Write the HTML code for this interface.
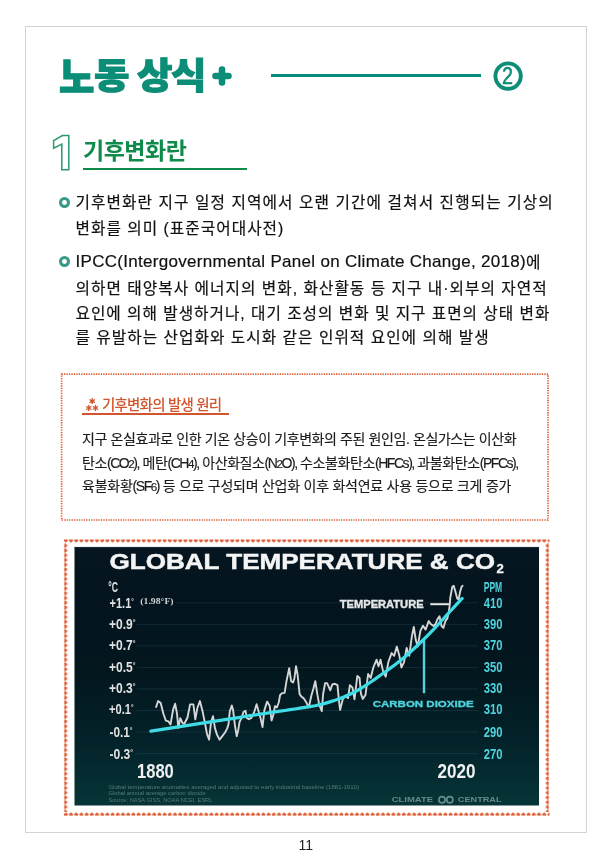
<!DOCTYPE html>
<html lang="ko">
<head>
<meta charset="utf-8">
<style>
*{margin:0;padding:0;box-sizing:border-box}
html,body{width:612px;height:859px;background:#fff;overflow:hidden}
body{position:relative;font-family:"Liberation Sans","Noto Sans CJK KR",sans-serif;color:#222}
.abs{position:absolute;white-space:nowrap}
#page{position:absolute;left:25px;top:26px;width:562px;height:807px;border:1px solid #d4d4d4}
.tch{position:absolute;top:47px;font-family:"Noto Sans CJK KR",sans-serif;font-weight:900;font-size:36px;line-height:52px;color:#0b8d77;-webkit-text-stroke:1px #0b8d77;transform:scaleX(1.07);transform-origin:0 0}
#hline{left:271px;top:74px;width:210px;height:3px;background:#078b7a}
#sec-h{left:83px;top:132px;font-family:"Liberation Sans","Noto Sans CJK KR",sans-serif;font-weight:700;font-size:23px;color:#0e8a4a;letter-spacing:-0.5px}
#sec-ul{left:83px;top:168px;width:164px;height:2px;background:#0e8a4a}
.bul{position:absolute;width:11.4px;height:11.2px;border:3px solid #3a9888;border-radius:50%}
.tx{position:absolute;white-space:nowrap;font-family:"Liberation Sans","Noto Sans CJK KR",sans-serif;font-size:15.7px;color:#111;letter-spacing:1.03px;-webkit-text-stroke:0.2px #111}
#box-h{left:84px;top:393px;font-family:"Liberation Sans","Noto Sans CJK KR",sans-serif;font-weight:500;font-size:14.5px;color:#d2552d;letter-spacing:-0.8px}
#box-ul{left:82px;top:413px;width:147px;height:2px;background:#d2552d}
.bt{position:absolute;white-space:nowrap;font-family:"Liberation Sans","Noto Sans CJK KR",sans-serif;font-size:14px;color:#1c1c1c;letter-spacing:-0.4px;-webkit-text-stroke:0.15px #1c1c1c}
.n{letter-spacing:-1.45px}
.lat{font-size:17px;letter-spacing:0.3px;vertical-align:1.5px}
#pno{left:298.5px;top:837px;font-size:14px;color:#222;font-family:"Liberation Sans",sans-serif}
</style>
</head>
<body>
<div id="page"></div>

<div class="tch" style="left:59px;top:45px;transform:scale(1.07,1.13)">노</div><div class="tch" style="left:94px">동</div><div class="tch" style="left:137px">상</div><div class="tch" style="left:171px">식</div>
<svg class="abs" style="left:209.6px;top:63.75px" width="24" height="24" viewBox="0 0 24 24"><path d="M12 5.5V18.5M5.5 12H18.5" stroke="#0b8d77" stroke-width="6.6" stroke-linecap="round"/></svg>
<div id="hline" class="abs"></div>
<svg class="abs" style="left:490px;top:58px" width="36" height="36" viewBox="490 58 36 36"><circle cx="508.1" cy="76.1" r="12.7" fill="none" stroke="#0b8d77" stroke-width="3.9"/><text x="507.4" y="84.2" text-anchor="middle" fill="#0b8d77" stroke="#0b8d77" stroke-width="0.5" font-family="Liberation Sans, sans-serif" font-size="23.4" textLength="11" lengthAdjust="spacingAndGlyphs">2</text></svg>

<svg class="abs" style="left:50px;top:132px" width="24" height="42" viewBox="0 0 24 42">
  <path d="M3.6 8.7 L12.4 3.5 L18.8 3.5 L18.8 37.7 L11.8 37.7 L11.8 12.2 L3.6 16.2 Z" fill="none" stroke="#2a9a6a" stroke-width="1.5" stroke-linejoin="miter"/>
</svg>
<div id="sec-h" class="abs">기후변화란</div>
<div id="sec-ul" class="abs"></div>

<div class="bul" style="left:58.8px;top:196.8px"></div>
<div class="tx" style="left:75.5px;top:189.8px;letter-spacing:1.09px">기후변화란 지구 일정 지역에서 오랜 기간에 걸쳐서 진행되는 기상의</div>
<div class="tx" style="left:75.5px;top:215.8px">변화를 의미 (표준국어대사전)</div>

<div class="bul" style="left:58.8px;top:255.8px"></div>
<div class="tx" style="left:75.5px;top:249.8px;letter-spacing:0.93px"><span class="lat">IPCC(Intergovernmental Panel on Climate Change, 2018)</span>에</div>
<div class="tx" style="left:75.5px;top:275.8px">의하면 태양복사 에너지의 변화, 화산활동 등 지구 내·외부의 자연적</div>
<div class="tx" style="left:75.5px;top:300.8px;letter-spacing:0.98px">요인에 의해 발생하거나, 대기 조성의 변화 및 지구 표면의 상태 변화</div>
<div class="tx" style="left:75.5px;top:324.8px">를 유발하는 산업화와 도시화 같은 인위적 요인에 의해 발생</div>

<svg class="abs" style="left:80px;top:394px" width="22" height="20" viewBox="80 394 22 20"><path d="M92.20 398.60L92.20 403.60M90.03 399.85L94.37 402.35M94.37 399.85L90.03 402.35M88.80 405.50L88.80 410.50M86.63 406.75L90.97 409.25M90.97 406.75L86.63 409.25M95.50 405.50L95.50 410.50M93.33 406.75L97.67 409.25M97.67 406.75L93.33 409.25" stroke="#d2552d" stroke-width="1.35" stroke-linecap="round"/></svg>
<div id="box-h" class="abs" style="left:102px">기후변화의 발생 원리</div>
<div id="box-ul" class="abs"></div>
<div class="bt" style="left:82px;top:427.7px">지구 온실효과로 인한 기온 상승이 기후변화의 주된 원인임. 온실가스는 이산화</div>
<div class="bt" style="left:82px;top:451.8px">탄소<span class="n">(CO<small>2</small>),</span> 메탄<span class="n">(CH<small>4</small>),</span> 아산화질소<span class="n">(N<small>2</small>O),</span> 수소불화탄소<span class="n">(HFCs),</span> 과불화탄소<span class="n">(PFCs),</span></div>
<div class="bt" style="left:82px;top:474.8px;letter-spacing:-0.25px">육불화황<span class="n">(SF<small>6</small>)</span> 등 으로 구성되며 산업화 이후 화석연료 사용 등으로 크게 증가</div>

<!-- CHART -->
<svg class="abs" style="left:0;top:0" width="612" height="859" viewBox="0 0 612 859">
<defs>
<linearGradient id="bg" x1="0" y1="0" x2="0" y2="1">
<stop offset="0" stop-color="#061620"/>
<stop offset="0.2" stop-color="#03141e"/>
<stop offset="0.5" stop-color="#03171f"/>
<stop offset="0.75" stop-color="#032229"/>
<stop offset="1" stop-color="#063537"/>
</linearGradient>
</defs>
<rect x="61.6" y="374.2" width="486.4" height="145.8" fill="none" stroke="#dd5d36" stroke-width="1.7" stroke-dasharray="1.3 1.15"/>
<pattern id="hh" patternUnits="userSpaceOnUse" x="63.2" y="539" width="5.2" height="4"><path transform="translate(2.6,2)" d="M0,1.75 L-1.85,-0.05 A0.95,0.95 0 0 1 0,-1.25 A0.95,0.95 0 0 1 1.85,-0.05 Z" fill="#e0603a"/></pattern>
<pattern id="hb" patternUnits="userSpaceOnUse" x="63.2" y="812" width="5.2" height="4"><path transform="translate(2.6,2) rotate(180)" d="M0,1.75 L-1.85,-0.05 A0.95,0.95 0 0 1 0,-1.25 A0.95,0.95 0 0 1 1.85,-0.05 Z" fill="#e0603a"/></pattern>
<pattern id="hv" patternUnits="userSpaceOnUse" x="63.8" y="538.6" width="4" height="4.75"><path transform="translate(2,2.4) rotate(-90)" d="M0,1.75 L-1.85,-0.05 A0.95,0.95 0 0 1 0,-1.25 A0.95,0.95 0 0 1 1.85,-0.05 Z" fill="#e0603a"/></pattern>
<pattern id="hr" patternUnits="userSpaceOnUse" x="545.2" y="538.6" width="4" height="4.75"><path transform="translate(2,2.4) rotate(90)" d="M0,1.75 L-1.85,-0.05 A0.95,0.95 0 0 1 0,-1.25 A0.95,0.95 0 0 1 1.85,-0.05 Z" fill="#e0603a"/></pattern>
<rect x="63.5" y="539" width="486" height="4" fill="url(#hh)"/>
<rect x="63.5" y="812" width="486" height="4" fill="url(#hb)"/>
<rect x="63.8" y="543" width="4" height="269" fill="url(#hv)"/>
<rect x="545.2" y="543" width="4" height="269" fill="url(#hr)"/>
<rect x="74.5" y="547" width="464.5" height="258.5" fill="url(#bg)"/>
<line x1="74.5" y1="547.4" x2="539" y2="547.4" stroke="#26343b" stroke-width="0.8"/>
<g stroke="rgb(95,150,165)" stroke-opacity="0.17" stroke-width="1">
<line x1="176" y1="602.8" x2="478" y2="602.8"/>
<line x1="137" y1="624.35" x2="478" y2="624.35"/>
<line x1="137" y1="645.9" x2="478" y2="645.9"/>
<line x1="137" y1="667.45" x2="478" y2="667.45"/>
<line x1="137" y1="689" x2="478" y2="689"/>
<line x1="137" y1="710.55" x2="478" y2="710.55"/>
<line x1="137" y1="732.1" x2="478" y2="732.1"/>
<line x1="137" y1="753.65" x2="478" y2="753.65"/>
</g>
<text x="109.5" y="568.5" fill="#f4f4f4" stroke="#f4f4f4" stroke-width="0.5" font-family="Liberation Sans, sans-serif" font-weight="bold" font-size="22" textLength="385.5" lengthAdjust="spacingAndGlyphs">GLOBAL TEMPERATURE &amp; CO</text>
<text x="496.5" y="573" fill="#f4f4f4" stroke="#f4f4f4" stroke-width="0.3" font-family="Liberation Sans, sans-serif" font-weight="bold" font-size="12.5" textLength="7.3" lengthAdjust="spacingAndGlyphs">2</text>
<g fill="#e2e2e2" font-family="Liberation Sans, sans-serif" font-weight="bold" font-size="14">
<text x="108.3" y="592.4" font-size="14" textLength="9.7" lengthAdjust="spacingAndGlyphs">°C</text>
<text x="109.5" y="607.5" textLength="24.3" lengthAdjust="spacingAndGlyphs">+1.1<tspan font-size="8" dy="-4">°</tspan></text>
<text x="109" y="628.5" textLength="26.5" lengthAdjust="spacingAndGlyphs">+0.9<tspan font-size="8" dy="-4">°</tspan></text>
<text x="109" y="649.8" textLength="26.5" lengthAdjust="spacingAndGlyphs">+0.7<tspan font-size="8" dy="-4">°</tspan></text>
<text x="109" y="671.5" textLength="26.5" lengthAdjust="spacingAndGlyphs">+0.5<tspan font-size="8" dy="-4">°</tspan></text>
<text x="109" y="692.9" textLength="26.5" lengthAdjust="spacingAndGlyphs">+0.3<tspan font-size="8" dy="-4">°</tspan></text>
<text x="109" y="714.4" textLength="24.5" lengthAdjust="spacingAndGlyphs">+0.1<tspan font-size="8" dy="-4">°</tspan></text>
<text x="109.5" y="736.9" textLength="23" lengthAdjust="spacingAndGlyphs">-0.1<tspan font-size="8" dy="-4">°</tspan></text>
<text x="109.5" y="758.6" textLength="23.5" lengthAdjust="spacingAndGlyphs">-0.3<tspan font-size="8" dy="-4">°</tspan></text>
</g>
<text x="140.3" y="604.4" fill="#cdd1d4" font-family="Liberation Serif, serif" font-weight="bold" font-size="8.2" textLength="33.3" lengthAdjust="spacingAndGlyphs">(1.98°F)</text>
<g fill="#4fd3dc" font-family="Liberation Sans, sans-serif" font-weight="bold" font-size="14">
<text x="483.7" y="592.4" textLength="18.5" lengthAdjust="spacingAndGlyphs">PPM</text>
<text x="483.7" y="607.5" textLength="18.8" lengthAdjust="spacingAndGlyphs">410</text>
<text x="483.7" y="628.7" textLength="18.8" lengthAdjust="spacingAndGlyphs">390</text>
<text x="483.7" y="650" textLength="18.8" lengthAdjust="spacingAndGlyphs">370</text>
<text x="483.7" y="672.4" textLength="18.8" lengthAdjust="spacingAndGlyphs">350</text>
<text x="483.7" y="693" textLength="18.8" lengthAdjust="spacingAndGlyphs">330</text>
<text x="483.7" y="714.4" textLength="18.8" lengthAdjust="spacingAndGlyphs">310</text>
<text x="483.7" y="737" textLength="18.8" lengthAdjust="spacingAndGlyphs">290</text>
<text x="483.7" y="758.6" textLength="18.8" lengthAdjust="spacingAndGlyphs">270</text>
</g>
<g fill="#f0f0f0" font-family="Liberation Sans, sans-serif" font-weight="bold" font-size="19.5">
<text x="137" y="778" textLength="36.8" lengthAdjust="spacingAndGlyphs">1880</text>
<text x="437.5" y="778" textLength="38" lengthAdjust="spacingAndGlyphs">2020</text>
</g>
<text x="339.8" y="608.3" fill="#e6e6e6" stroke="#e6e6e6" stroke-width="0.35" font-family="Liberation Sans, sans-serif" font-weight="bold" font-size="10" textLength="83.8" lengthAdjust="spacingAndGlyphs">TEMPERATURE</text>
<line x1="430.3" y1="604.2" x2="450" y2="604.2" stroke="#e6e6e6" stroke-width="2"/>
<text x="372.7" y="707.3" fill="#4fd3dc" stroke="#4fd3dc" stroke-width="0.35" font-family="Liberation Sans, sans-serif" font-weight="bold" font-size="9.5" textLength="101" lengthAdjust="spacingAndGlyphs">CARBON DIOXIDE</text>
<line x1="424" y1="640" x2="424" y2="693.2" stroke="#4fd3dc" stroke-width="2.4"/>
<polyline points="156.1,707.0 158.1,701.1 160.7,703.1 163.3,713.5 165.9,720.7 168.5,721.4 170.5,724.6 173.1,709.6 175.1,703.7 177.0,713.5 178.3,727.9 180.3,718.1 182.3,722.7 184.2,724.0 187.5,717.5 190.1,704.4 193.4,704.4 195.3,719.4 197.3,708.3 199.9,701.1 202.5,710.9 205.1,724.0 207.1,734.4 209.1,739.7 211.0,722.7 213.0,716.1 214.9,727.9 216.9,734.4 219.5,739.7 222.1,736.4 225.2,732.3 227.2,728.4 228.5,724.4 229.8,711.4 231.8,705.5 233.1,710.1 235.0,725.8 236.7,736.2 238.3,729.7 239.6,721.8 241.6,717.9 243.5,712.0 245.5,710.7 246.8,717.9 248.8,719.2 251.4,717.9 254.0,712.7 256.6,704.2 258.6,711.4 260.5,717.9 262.5,727.1 264.4,710.1 267.1,701.6 269.7,706.1 271.6,720.5 273.6,714.0 274.9,706.1 276.9,707.5 278.8,702.2 280.1,695.0 282.1,693.1 284.6,692.9 286.5,681.1 289.2,668.1 291.1,681.1 293.1,682.5 294.4,678.5 296.0,666.1 297.6,674.6 299.6,694.2 301.6,696.8 303.5,698.1 306.1,702.1 308.8,707.3 311.4,695.5 313.3,689.0 315.3,681.1 317.3,694.2 319.2,704.7 321.8,711.2 323.1,694.2 325.1,683.1 327.1,683.1 330.3,690.3 332.3,684.4 334.9,683.8 337.5,685.1 338.8,699.4 340.1,709.9 342.7,699.4 345.4,695.5 348.0,698.1 349.9,685.1 352.5,687.7 354.5,699.4 357.3,676.0 359.6,678.0 360.9,693.7 362.8,698.9 365.5,695.0 368.1,674.0 370.7,678.0 373.3,667.5 376.6,659.7 378.5,666.2 380.5,659.7 383.1,671.4 385.7,676.7 388.3,662.3 391.6,653.1 394.2,655.8 396.8,646.6 399.4,655.8 401.4,667.5 404.0,662.3 406.6,647.9 409.2,655.8 411.9,636.1 413.8,627.0 415.8,640.1 417.7,646.6 420.4,630.9 423.0,625.7 425.6,629.6 428.7,621.1 430.7,624.0 433.6,626.0 435.6,624.0 437.5,619.1 439.5,616.2 441.5,626.0 443.4,627.9 445.4,621.1 447.4,618.1 448.8,612.3 449.8,604.4 450.3,597.5 452.3,586.8 453.7,585.8 455.2,590.7 457.2,598.5 458.6,599.5 460.1,591.7 461.6,586.8 462.5,585.8" fill="none" stroke="#d6d6d6" stroke-width="1.9" stroke-linejoin="round" stroke-linecap="round"/>
<polyline points="150.9,731.2 225.0,719.6 240.0,717.3 245.0,716.5 250.0,715.7 255.0,715.0 260.0,714.2 265.0,713.5 270.0,712.7 275.0,711.9 280.0,711.2 285.0,710.5 290.0,709.7 295.0,709.0 300.0,708.2 305.0,707.4 310.0,706.6 315.0,705.7 320.0,704.6 325.0,703.4 330.0,701.9 335.0,700.3 340.0,698.5 345.0,696.5 350.0,694.3 355.0,691.8 360.0,689.0 365.0,685.9 370.0,682.5 375.0,679.1 380.0,675.5 385.0,672.0 390.0,668.4 395.0,664.7 400.0,660.8 405.0,656.7 410.0,652.3 415.0,647.7 420.0,643.0 425.0,638.1 430.0,633.1 435.0,627.9 440.0,622.5 445.0,617.0 450.0,611.5 455.0,606.1 460.0,600.7 462.1,598.5" fill="none" stroke="#3fdce6" stroke-width="3.2" stroke-linejoin="round" stroke-linecap="round"/>
<g fill="#557a7b" font-family="Liberation Sans, sans-serif" font-size="5">
<text x="108.4" y="788.6" textLength="250.6" lengthAdjust="spacingAndGlyphs">Global temperature anomalies averaged and adjusted to early industrial baseline (1881-1910)</text>
<text x="108.4" y="795.1" textLength="97.3" lengthAdjust="spacingAndGlyphs">Global annual average carbon dioxide</text>
<text x="108.4" y="801.7" textLength="104" lengthAdjust="spacingAndGlyphs">Source: NASA GISS, NOAA NCEI, ESRL</text>
</g>
<g fill="#678b8d" font-family="Liberation Sans, sans-serif" font-weight="bold" font-size="7.2">
<text x="391.7" y="802.4" textLength="41.3" lengthAdjust="spacingAndGlyphs">CLIMATE</text>
<text x="457.8" y="802.4" textLength="43.8" lengthAdjust="spacingAndGlyphs">CENTRAL</text>
</g>
<g fill="none" stroke="#678b8d" stroke-width="1.7"><circle cx="442" cy="799.8" r="3.1"/><circle cx="449.8" cy="799.8" r="3.1"/></g>
</svg>

<div id="pno" class="abs">11</div>
</body>
</html>
